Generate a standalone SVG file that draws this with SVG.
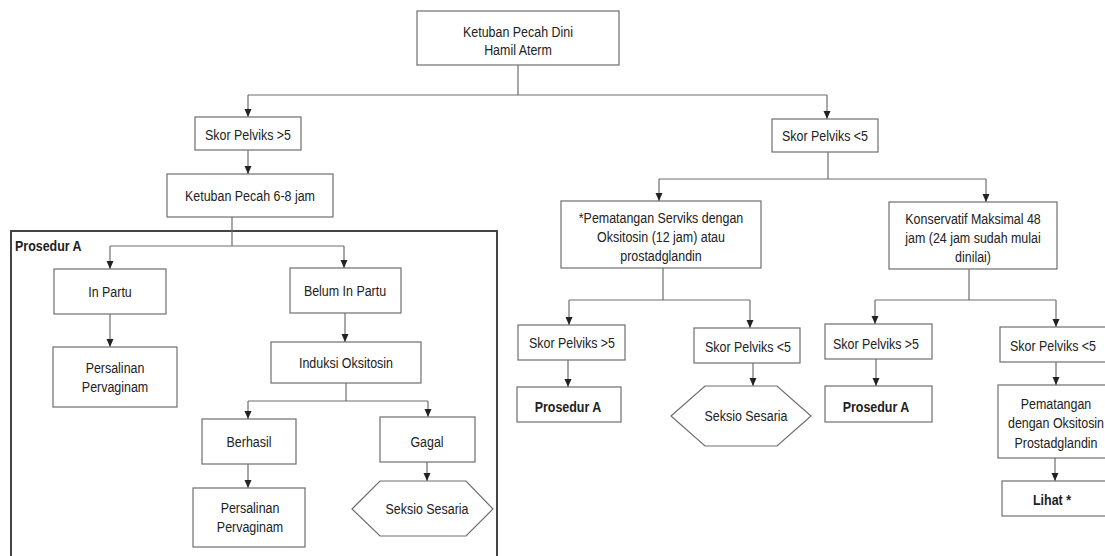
<svg xmlns="http://www.w3.org/2000/svg" width="1105" height="556" viewBox="0 0 1105 556">
<style>
.b{fill:#fff;stroke:#6e6e6e;stroke-width:1.2}
.t{font-family:"Liberation Sans",Arial,sans-serif;font-size:15px;fill:#222;text-anchor:middle}
.bold{font-weight:bold}
.start{text-anchor:start}
.c{fill:none;stroke:#6e6e6e;stroke-width:1.2}
.frame{fill:none;stroke:#444;stroke-width:2}
</style>
<defs>
<marker id="ah" markerUnits="userSpaceOnUse" markerWidth="8" markerHeight="8" refX="8" refY="3.5" orient="auto">
<path d="M0,0 L8,3.5 L0,7 z" fill="#222"/>
</marker>
</defs>
<rect width="1105" height="556" fill="#fff"/>
<g id="prosedur-a-frame">
<rect class="frame" x="11" y="231" width="486" height="340"/>
<text class="t bold start" transform="matrix(0.83 0 0 1 15 251)">Prosedur A</text>
</g>
<g id="connectors">
<path class="c" d="M518,65 V95 M248,95 H827"/>
<path class="c" d="M248,95 V117" marker-end="url(#ah)"/>
<path class="c" d="M827,95 V119" marker-end="url(#ah)"/>
<path class="c" d="M248,150 V174" marker-end="url(#ah)"/>
<path class="c" d="M232,217 V246 M110,246 H344"/>
<path class="c" d="M110,246 V269" marker-end="url(#ah)"/>
<path class="c" d="M344,246 V268" marker-end="url(#ah)"/>
<path class="c" d="M110,314 V347" marker-end="url(#ah)"/>
<path class="c" d="M345,313 V342" marker-end="url(#ah)"/>
<path class="c" d="M346,383 V401 M248,401 H428"/>
<path class="c" d="M248,401 V419" marker-end="url(#ah)"/>
<path class="c" d="M428,401 V417" marker-end="url(#ah)"/>
<path class="c" d="M248,464 V488" marker-end="url(#ah)"/>
<path class="c" d="M427,462 V481" marker-end="url(#ah)"/>
<path class="c" d="M828,152 V179 M659,179 H986"/>
<path class="c" d="M659,179 V201" marker-end="url(#ah)"/>
<path class="c" d="M986,179 V202" marker-end="url(#ah)"/>
<path class="c" d="M663,268 V300 M569,300 H750"/>
<path class="c" d="M569,300 V325" marker-end="url(#ah)"/>
<path class="c" d="M750,300 V328" marker-end="url(#ah)"/>
<path class="c" d="M969,269 V300 M875,300 H1056"/>
<path class="c" d="M875,300 V324" marker-end="url(#ah)"/>
<path class="c" d="M1056,300 V327" marker-end="url(#ah)"/>
<path class="c" d="M568,360 V387" marker-end="url(#ah)"/>
<path class="c" d="M753,363 V386" marker-end="url(#ah)"/>
<path class="c" d="M876,359 V386" marker-end="url(#ah)"/>
<path class="c" d="M1056,362 V385" marker-end="url(#ah)"/>
<path class="c" d="M1055,458 V481" marker-end="url(#ah)"/>
</g>
<g id="n-top"><rect class="b" x="417" y="11" width="202" height="54"/><text class="t" transform="matrix(0.83 0 0 1 518 37)">Ketuban Pecah Dini</text><text class="t" transform="matrix(0.83 0 0 1 518 55)">Hamil Aterm</text></g>
<g id="n-skor-gt5"><rect class="b" x="195" y="117" width="106" height="33"/><text class="t" transform="matrix(0.83 0 0 1 248 140)">Skor Pelviks &gt;5</text></g>
<g id="n-ketuban-6-8"><rect class="b" x="167" y="174" width="166" height="43"/><text class="t" transform="matrix(0.83 0 0 1 250 201)">Ketuban Pecah 6-8 jam</text></g>
<g id="n-in-partu"><rect class="b" x="54" y="269" width="112" height="45"/><text class="t" transform="matrix(0.83 0 0 1 110 297)">In Partu</text></g>
<g id="n-persalinan-1"><rect class="b" x="53" y="347" width="124" height="60"/><text class="t" transform="matrix(0.83 0 0 1 115 373)">Persalinan</text><text class="t" transform="matrix(0.83 0 0 1 115 392)">Pervaginam</text></g>
<g id="n-belum"><rect class="b" x="290" y="268" width="111" height="45"/><text class="t" transform="matrix(0.83 0 0 1 345 296)">Belum In Partu</text></g>
<g id="n-induksi"><rect class="b" x="271" y="342" width="150" height="41"/><text class="t" transform="matrix(0.83 0 0 1 346 368)">Induksi Oksitosin</text></g>
<g id="n-berhasil"><rect class="b" x="202" y="419" width="94" height="45"/><text class="t" transform="matrix(0.83 0 0 1 249 447)">Berhasil</text></g>
<g id="n-gagal"><rect class="b" x="380" y="417" width="95" height="45"/><text class="t" transform="matrix(0.83 0 0 1 427 447)">Gagal</text></g>
<g id="n-persalinan-2"><rect class="b" x="193" y="488" width="112" height="59"/><text class="t" transform="matrix(0.83 0 0 1 250 513)">Persalinan</text><text class="t" transform="matrix(0.83 0 0 1 250 532)">Pervaginam</text></g>
<g id="n-seksio-1"><polygon class="b" points="352,509 380,481 466,481 493,509 466,536 380,536"/><text class="t" transform="matrix(0.83 0 0 1 427 514)">Seksio Sesaria</text></g>
<g id="n-skor-lt5"><rect class="b" x="772" y="119" width="106" height="33"/><text class="t" transform="matrix(0.83 0 0 1 825 141)">Skor Pelviks &lt;5</text></g>
<g id="n-pematangan"><rect class="b" x="561" y="201" width="200" height="67"/><text class="t" transform="matrix(0.83 0 0 1 661 223)">*Pematangan Serviks dengan</text><text class="t" transform="matrix(0.83 0 0 1 661 242)">Oksitosin (12 jam) atau</text><text class="t" transform="matrix(0.83 0 0 1 661 261)">prostadglandin</text></g>
<g id="n-konservatif"><rect class="b" x="889" y="202" width="168" height="67"/><text class="t" transform="matrix(0.83 0 0 1 973 224)">Konservatif Maksimal 48</text><text class="t" transform="matrix(0.83 0 0 1 973 243)">jam (24 jam sudah mulai</text><text class="t" transform="matrix(0.83 0 0 1 973 262)">dinilai)</text></g>
<g id="n-a-skor-gt5"><rect class="b" x="518" y="325" width="107" height="35"/><text class="t" transform="matrix(0.83 0 0 1 572 348)">Skor Pelviks &gt;5</text></g>
<g id="n-a-prosedur"><rect class="b" x="517" y="387" width="104" height="35"/><text class="t bold" transform="matrix(0.83 0 0 1 568 412)">Prosedur A</text></g>
<g id="n-b-skor-lt5"><rect class="b" x="694" y="328" width="106" height="35"/><text class="t" transform="matrix(0.83 0 0 1 748 352)">Skor Pelviks &lt;5</text></g>
<g id="n-b-seksio"><polygon class="b" points="671,416 705,386 777,386 811,416 777,446 705,446"/><text class="t" transform="matrix(0.83 0 0 1 746 421)">Seksio Sesaria</text></g>
<g id="n-c-skor-gt5"><rect class="b" x="825" y="324" width="107" height="35"/><text class="t" transform="matrix(0.83 0 0 1 876 349)">Skor Pelviks &gt;5</text></g>
<g id="n-c-prosedur"><rect class="b" x="825" y="386" width="107" height="36"/><text class="t bold" transform="matrix(0.83 0 0 1 876 412)">Prosedur A</text></g>
<g id="n-e-skor-lt5"><rect class="b" x="1000" y="327" width="106" height="35"/><text class="t" transform="matrix(0.83 0 0 1 1053 351)">Skor Pelviks &lt;5</text></g>
<g id="n-f-pematangan"><rect class="b" x="998" y="385" width="112" height="73"/><text class="t" transform="matrix(0.83 0 0 1 1056 409)">Pematangan</text><text class="t" transform="matrix(0.83 0 0 1 1056 428)">dengan Oksitosin</text><text class="t" transform="matrix(0.83 0 0 1 1056 448)">Prostadglandin</text></g>
<g id="n-g-lihat"><rect class="b" x="1002" y="481" width="108" height="35"/><text class="t bold" transform="matrix(0.83 0 0 1 1052 505)">Lihat *</text></g>
</svg>
